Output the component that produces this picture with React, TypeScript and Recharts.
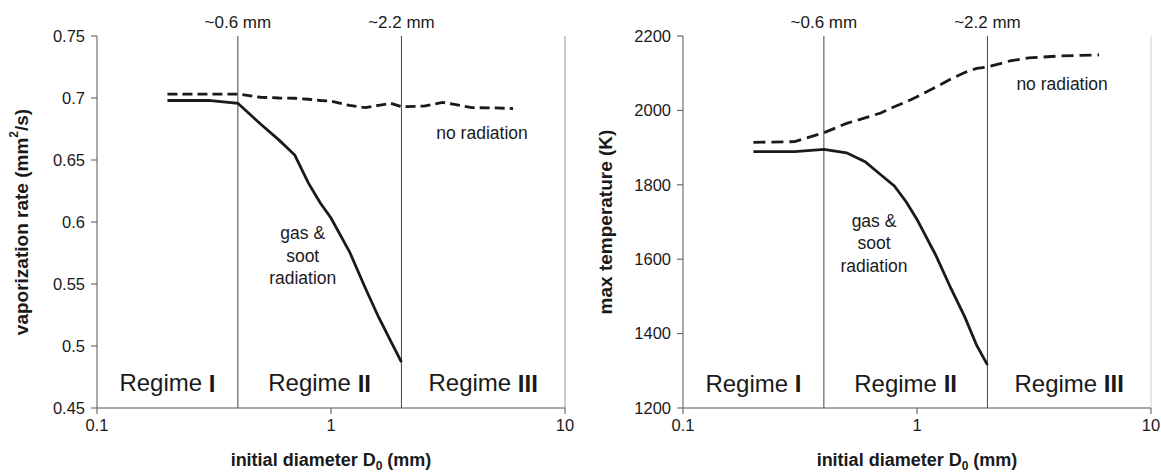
import React from "react";
import {
  LineChart,
  Line,
  XAxis,
  YAxis,
  ReferenceLine,
  ReferenceDot,
} from "recharts";

// initial diameters (mm)
const dRad = [0.2, 0.3, 0.4, 0.5, 0.6, 0.7, 0.8, 0.9, 1.0, 1.2, 1.4, 1.6, 1.8, 2.0];
const dNoRad = [0.2, 0.3, 0.4, 0.5, 0.6, 0.7, 0.8, 0.9, 1.0, 1.2, 1.4, 1.6, 1.8, 2.0, 2.5, 3, 4, 5, 6];

// vaporization rate (mm2/s)
const vapRad = [0.698, 0.698, 0.6957, 0.679, 0.666, 0.654, 0.6315, 0.6153, 0.6032, 0.576, 0.547, 0.523, 0.504, 0.487];
const vapNoRad = [0.7032, 0.7032, 0.7032, 0.7006, 0.7, 0.6998, 0.699, 0.698, 0.6975, 0.694, 0.6922, 0.6941, 0.6957, 0.693, 0.6935, 0.6965, 0.6922, 0.692, 0.6915];

// max temperature (K)
const tempRad = [1889, 1889, 1895, 1886, 1862, 1827, 1797, 1754, 1707, 1612, 1520, 1445, 1368, 1316];
const tempNoRad = [1914, 1916, 1940, 1965, 1980, 1993, 2010, 2023, 2037, 2062, 2085, 2102, 2113, 2117, 2133, 2141, 2146, 2148, 2149];

const xTicks = [0.1, 1, 10];
const vapTicks = [0.45, 0.5, 0.55, 0.6, 0.65, 0.7, 0.75];
const tempTicks = [1200, 1400, 1600, 1800, 2000, 2200];

const regimeBounds = [0.4, 2.0];
const regimeBoundLabels = ["~0.6 mm", "~2.2 mm"];
const regimeCenters = [0.2, 0.894, 4.47];
const regimeNames = ["I", "II", "III"];

const FONT = "'Liberation Sans', Arial, sans-serif";
const INK = "#1a1a1a";
const AXIS = "#555";

const zip = (xs: number[], ys: number[]) => xs.map((d, i) => ({ d, v: ys[i] }));

const multiLine = (lines: string[], size: number) => (props: any) => {
  const vb = props.viewBox || {};
  const cx = (vb.x ?? 0) + (vb.width ?? 0) / 2;
  const cy = (vb.y ?? 0) + (vb.height ?? 0) / 2;
  const lh = 22.5;
  const y0 = cy - ((lines.length - 1) * lh) / 2;
  return (
    <text x={cx} y={y0} textAnchor="middle" dominantBaseline="central" fontSize={size} fill={INK} fontFamily={FONT}>
      {lines.map((l, i) => (
        <tspan key={i} x={cx} y={y0 + i * lh}>
          {l}
        </tspan>
      ))}
    </text>
  );
};

const regimeLabel = (num: string) => (props: any) => {
  const vb = props.viewBox || {};
  const cx = (vb.x ?? 0) + (vb.width ?? 0) / 2;
  const cy = (vb.y ?? 0) + (vb.height ?? 0) / 2;
  return (
    <text x={cx} y={cy} textAnchor="middle" dominantBaseline="central" fontSize={24} fill={INK} fontFamily={FONT}>
      Regime <tspan fontWeight="bold">{num}</tspan>
    </text>
  );
};

const xTitle = (props: any) => {
  const vb = props.viewBox || {};
  const cx = vb.x + vb.width / 2;
  return (
    <text x={cx} y={vb.y + 58} textAnchor="middle" fontSize={18} fontWeight="bold" fill={INK} fontFamily={FONT}>
      initial diameter D<tspan fontSize={12} dy={4}>0</tspan>
      <tspan dy={-4}> (mm)</tspan>
    </text>
  );
};

const yTitle = (title: React.ReactNode, x: number) => (props: any) => {
  const vb = props.viewBox || {};
  const cy = vb.y + vb.height / 2;
  return (
    <text
      x={x}
      y={cy}
      transform={`rotate(-90 ${x} ${cy})`}
      textAnchor="middle"
      dominantBaseline="central"
      fontSize={19}
      fontWeight="bold"
      fill={INK}
      fontFamily={FONT}
    >
      {title}
    </text>
  );
};

interface PanelProps {
  radiation: { d: number; v: number }[];
  noRadiation: { d: number; v: number }[];
  yDomain: [number, number];
  yTicks: number[];
  yLabel: React.ReactNode;
  yLabelX: number;
  leftMargin: number;
  rightMargin: number;
  gasPos: [number, number];
  noRadPos: [number, number];
  regimeY: number;
  dash: string;
  border: string;
}

function Panel(p: PanelProps) {
  return (
    <LineChart
      width={580}
      height={472}
      margin={{ top: 36, right: p.rightMargin, bottom: 4, left: p.leftMargin - 60 }}
      style={{ fontFamily: FONT }}
    >
      <XAxis
        dataKey="d"
        type="number"
        scale="log"
        domain={[0.1, 10]}
        ticks={xTicks}
        allowDataOverflow
        height={60}
        tickSize={6}
        tickMargin={5}
        tick={{ fill: INK, fontSize: 16.5 }}
        axisLine={{ stroke: AXIS }}
        tickLine={{ stroke: AXIS }}
        label={{ content: xTitle }}
      />
      <YAxis
        type="number"
        domain={p.yDomain}
        ticks={p.yTicks}
        allowDataOverflow
        width={60}
        tickSize={6}
        tickMargin={6}
        tick={{ fill: INK, fontSize: 16.5 }}
        axisLine={{ stroke: AXIS }}
        tickLine={{ stroke: AXIS }}
        label={{ content: yTitle(p.yLabel, p.yLabelX) }}
      />
      <ReferenceLine x={10} stroke={p.border} />
      {regimeBounds.map((b, i) => (
        <ReferenceLine
          key={b}
          x={b}
          stroke="#444"
          strokeWidth={1}
          label={{ value: regimeBoundLabels[i], position: "top", offset: 8, fill: INK, fontSize: 17 }}
        />
      ))}
      {regimeCenters.map((c, i) => (
        <ReferenceDot
          key={c}
          x={c}
          y={p.regimeY}
          r={0}
          fill="none"
          stroke="none"
          ifOverflow="visible"
          label={regimeLabel(regimeNames[i])}
        />
      ))}
      <ReferenceDot
        x={p.gasPos[0]}
        y={p.gasPos[1]}
        r={0}
        fill="none"
        stroke="none"
        label={multiLine(["gas &", "soot", "radiation"], 17.5)}
      />
      <ReferenceDot
        x={p.noRadPos[0]}
        y={p.noRadPos[1]}
        r={0}
        fill="none"
        stroke="none"
        label={multiLine(["no radiation"], 17.5)}
      />
      <Line
        data={p.noRadiation}
        dataKey="v"
        type="linear"
        dot={false}
        stroke={INK}
        strokeWidth={2.8}
        strokeDasharray={p.dash}
        isAnimationActive={false}
      />
      <Line
        data={p.radiation}
        dataKey="v"
        type="linear"
        dot={false}
        stroke={INK}
        strokeWidth={2.8}
        isAnimationActive={false}
      />
    </LineChart>
  );
}

export default function App() {
  return (
    <div
      style={{
        position: "absolute",
        left: 0,
        top: 0,
        width: 1161,
        height: 472,
        background: "#fff",
        display: "flex",
      }}
    >
      <Panel
        radiation={zip(dRad, vapRad)}
        noRadiation={zip(dNoRad, vapNoRad)}
        yDomain={[0.45, 0.75]}
        yTicks={vapTicks}
        yLabel={
          <>
            vaporization rate (mm<tspan fontSize={12} dy={-7}>2</tspan>
            <tspan dy={7}>/s)</tspan>
          </>
        }
        yLabelX={21}
        leftMargin={97}
        rightMargin={15}
        gasPos={[0.757, 0.5726]}
        noRadPos={[4.42, 0.6718]}
        regimeY={0.4702}
        dash="10 5"
        border="#999"
      />
      <Panel
        radiation={zip(dRad, tempRad)}
        noRadiation={zip(dNoRad, tempNoRad)}
        yDomain={[1200, 2200]}
        yTicks={tempTicks}
        yLabel="max  temperature  (K)"
        yLabelX={25}
        leftMargin={103}
        rightMargin={9}
        gasPos={[0.655, 1643]}
        noRadPos={[4.17, 2071]}
        regimeY={1267}
        dash="12 6"
        border="#d0d0d0"
      />
    </div>
  );
}
